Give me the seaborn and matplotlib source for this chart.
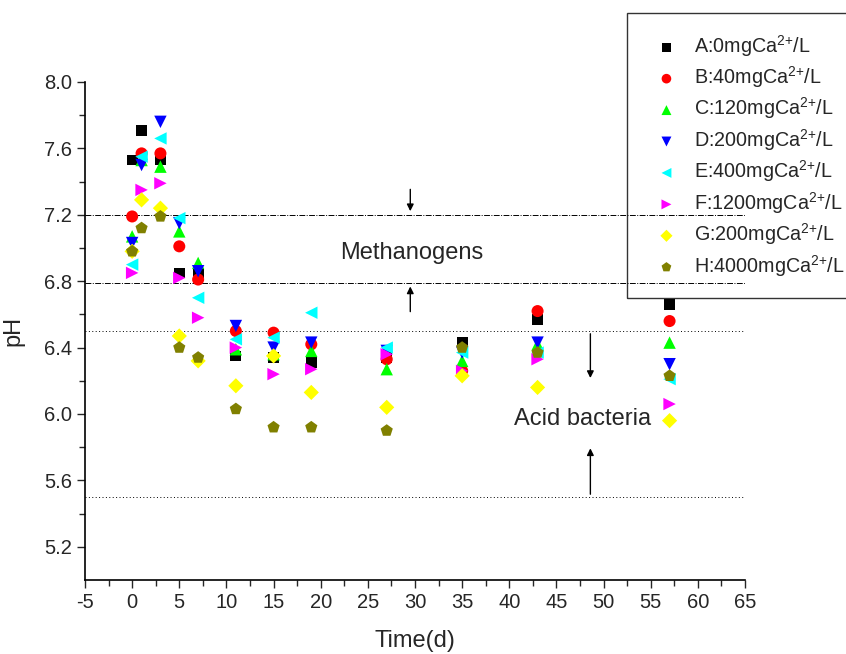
import numpy as np
import pandas as pd
import matplotlib
matplotlib.use("Agg")
import matplotlib.pyplot as plt
import seaborn as sns
from matplotlib.ticker import FixedLocator, MultipleLocator

sns.set_theme(style="ticks")
plt.rcParams['font.family'] = ['Liberation Sans', 'DejaVu Sans']
plt.rcParams['mathtext.default'] = 'regular'

days = [0, 1, 3, 5, 7, 11, 15, 19, 27, 35, 43, 57]

ph_a = [7.53, 7.71, 7.53, 6.85, 6.85, 6.35, 6.34, 6.31, 6.34, 6.43, 6.57, 6.66]
ph_b = [7.19, 7.57, 7.57, 7.01, 6.81, 6.50, 6.49, 6.42, 6.33, 6.26, 6.62, 6.56]
ph_c = [7.07, 7.53, 7.49, 7.10, 6.91, 6.39, 6.36, 6.38, 6.27, 6.32, 6.42, 6.43]
ph_d = [7.03, 7.50, 7.76, 7.15, 6.86, 6.53, 6.40, 6.43, 6.38, 6.37, 6.43, 6.30]
ph_e = [6.90, 7.55, 7.66, 7.18, 6.70, 6.45, 6.46, 6.61, 6.40, 6.37, 6.37, 6.21]
ph_f = [6.85, 7.35, 7.39, 6.82, 6.58, 6.40, 6.24, 6.27, 6.36, 6.26, 6.33, 6.06]
ph_g = [6.98, 7.29, 7.24, 6.47, 6.32, 6.17, 6.35, 6.13, 6.04, 6.23, 6.16, 5.96]
ph_h = [6.98, 7.12, 7.19, 6.40, 6.34, 6.03, 5.92, 5.92, 5.90, 6.40, 6.37, 6.23]

labels = [r"A:0mgCa$^{2{+}}$/L", r"B:40mgCa$^{2{+}}$/L", r"C:120mgCa$^{2{+}}$/L",
          r"D:200mgCa$^{2{+}}$/L", r"E:400mgCa$^{2{+}}$/L", r"F:1200mgCa$^{2{+}}$/L",
          r"G:200mgCa$^{2{+}}$/L", r"H:4000mgCa$^{2{+}}$/L"]
series = [ph_a, ph_b, ph_c, ph_d, ph_e, ph_f, ph_g, ph_h]
colors = ["black", "red", "#00ff00", "blue", "cyan", "magenta", "yellow", "#808000"]
markers = ["s", "o", "^", "v", "<", ">", "D", "p"]
sizes = [60, 75, 80, 80, 80, 80, 60, 85]

fig = plt.figure(figsize=(8.46, 6.54), dpi=100)
ax = fig.add_axes([85 / 846, 1 - 580 / 654, 660 / 846, 498 / 654])

# reference bands
ax.axhline(7.2, color="black", lw=0.7, ls=(0, (6, 1.5, 1, 1.5)), zorder=1)
ax.axhline(6.79, color="black", lw=0.7, ls=(0, (6, 1.5, 1, 1.5)), zorder=1)
ax.axhline(6.5, color="black", lw=0.7, ls=(0, (1, 2.5)), zorder=1)
ax.axhline(5.5, color="black", lw=0.7, ls=(0, (1, 2.5)), zorder=1)

for vals, lab, c, m, s in zip(series, labels, colors, markers, sizes):
    sns.scatterplot(x=days, y=vals, ax=ax, marker=m, color=c, s=s,
                    edgecolor="none", label=lab, zorder=3)

arrow = dict(arrowstyle="-|>", color="black", lw=1, mutation_scale=10)
ax.annotate("", xy=(29.5, 7.205), xytext=(29.5, 7.37), arrowprops=arrow)
ax.annotate("", xy=(29.5, 6.785), xytext=(29.5, 6.6), arrowprops=arrow)
ax.annotate("", xy=(48.6, 6.2), xytext=(48.6, 6.5), arrowprops=arrow)
ax.annotate("", xy=(48.6, 5.81), xytext=(48.6, 5.5), arrowprops=arrow)
ax.text(29.7, 6.97, "Methanogens", fontsize=17, ha="center", va="center")
ax.text(47.8, 5.97, "Acid bacteria", fontsize=17, ha="center", va="center")

ax.set_xlim(-5, 65)
ax.set_ylim(5.0, 8.0)
ax.xaxis.set_major_locator(MultipleLocator(5))
ax.xaxis.set_minor_locator(MultipleLocator(2.5))
ax.yaxis.set_major_locator(FixedLocator(np.arange(5.2, 8.01, 0.4)))
ax.yaxis.set_minor_locator(FixedLocator(np.arange(5.4, 7.81, 0.4)))
ax.tick_params(which="major", direction="out", length=6, width=1, labelsize=14.5)
ax.tick_params(which="minor", direction="out", length=4, width=1)
ax.set_xticklabels([str(int(v)) for v in ax.get_xticks()])
ax.set_yticklabels([f"{v:.1f}" for v in ax.get_yticks()])
for sp in ["top", "right"]:
    ax.spines[sp].set_visible(False)
for sp in ["left", "bottom"]:
    ax.spines[sp].set_linewidth(1.2)
    ax.spines[sp].set_color("black")
ax.set_xlabel("Time(d)", fontsize=17, labelpad=13)
ax.set_ylabel("pH", fontsize=17, labelpad=14)

leg = ax.legend(loc="upper left", bbox_to_anchor=(627 / 846, 1 - 13 / 654),
                bbox_transform=fig.transFigure, fontsize=14.2, frameon=True,
                fancybox=False, labelspacing=0.28, handletextpad=0.4,
                borderpad=1.0, borderaxespad=0, markerscale=0.8)
leg.get_frame().set_edgecolor("black")
leg.get_frame().set_facecolor("none")
leg.get_frame().set_linewidth(1)

fig.savefig("out.png", dpi=100)
